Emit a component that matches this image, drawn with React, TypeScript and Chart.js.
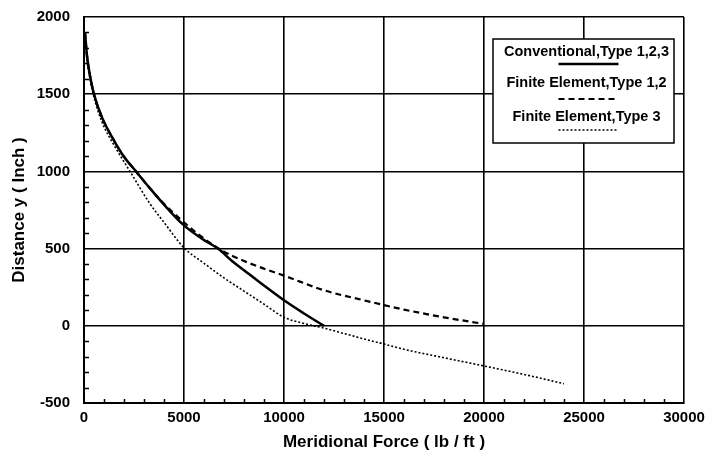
import React, { useEffect, useRef } from "react";
import { Chart, registerables } from "chart.js";

Chart.register(...registerables);

const seriesNames = [
  "Conventional,Type 1,2,3",
  "Finite Element,Type 1,2",
  "Finite Element,Type 3",
];

const convForce = [50, 150, 300, 500, 900, 1500, 2000, 2600, 3300, 4000, 5000, 6000, 6700, 7400, 8000, 8800, 10000, 11000, 12000];
const convY = [1900, 1750, 1620, 1500, 1350, 1200, 1095, 1000, 890, 785, 650, 555, 500, 420, 360, 280, 165, 80, 0];

const feForce = [50, 150, 300, 500, 900, 1500, 2000, 2600, 3300, 4000, 5000, 6000, 7000, 8000, 9000, 10000, 12000, 14000, 16000, 18000, 20000];
const feY = [1900, 1750, 1620, 1500, 1350, 1200, 1095, 1000, 890, 790, 670, 565, 480, 420, 370, 325, 230, 165, 105, 55, 12];

const fe3Force = [50, 150, 300, 500, 900, 1500, 2300, 3300, 4000, 5000, 6000, 7000, 8000, 9000, 10000, 11000, 12000, 13000, 14000, 15000, 16000, 18000, 20000, 22000, 24000];
const fe3Y = [1880, 1720, 1600, 1480, 1320, 1170, 1000, 790, 670, 505, 405, 310, 225, 140, 55, 15, -15, -50, -85, -118, -152, -207, -260, -315, -375];

const xMin = 0;
const xMax = 30000;
const xStep = 5000;
const xMinorStep = 1000;
const yMin = -500;
const yMax = 2000;
const yStep = 500;
const yMinorStep = 100;

const xTitle = "Meridional Force ( lb / ft )";
const yTitle = "Distance y ( Inch )";

const FONT = "'Liberation Sans', Arial, sans-serif";

const toPoints = (xs: number[], ys: number[]) => xs.map((x, i) => ({ x, y: ys[i] }));

const minorTicksPlugin = {
  id: "minorTicks",
  afterDraw(chart: any) {
    const { ctx, chartArea, scales } = chart;
    const xs = scales.x;
    const ys = scales.y;
    ctx.save();
    ctx.strokeStyle = "#000";
    ctx.lineWidth = 1.5;
    ctx.beginPath();
    for (let v = yMin; v <= yMax; v += yMinorStep) {
      if (v % yStep === 0) continue;
      const py = Math.round(ys.getPixelForValue(v)) + 0.5;
      ctx.moveTo(chartArea.left, py);
      ctx.lineTo(chartArea.left + 5, py);
    }
    for (let v = xMin; v <= xMax; v += xMinorStep) {
      if (v % xStep === 0) continue;
      const px = Math.round(xs.getPixelForValue(v)) + 0.5;
      ctx.moveTo(px, chartArea.bottom);
      ctx.lineTo(px, chartArea.bottom - 4);
    }
    ctx.stroke();
    ctx.restore();
  },
};

const legendPlugin = {
  id: "customLegend",
  afterDraw(chart: any) {
    const { ctx, chartArea } = chart;
    const boxRight = chartArea.right - 10;
    const boxLeft = boxRight - 181;
    const boxTop = chartArea.top + 22;
    const boxBottom = boxTop + 104;
    const cx = (boxLeft + boxRight) / 2;
    ctx.save();
    ctx.fillStyle = "#fff";
    ctx.fillRect(boxLeft, boxTop, boxRight - boxLeft, boxBottom - boxTop);
    ctx.strokeStyle = "#000";
    ctx.lineWidth = 1.5;
    ctx.strokeRect(boxLeft, boxTop, boxRight - boxLeft, boxBottom - boxTop);
    ctx.fillStyle = "#000";
    ctx.font = `bold 14.5px ${FONT}`;
    ctx.textAlign = "center";
    ctx.textBaseline = "middle";
    const textY = [13, 44, 78];
    const lineY = [25, 60, 91];
    const dashes = [[], [6, 4], [2, 2]];
    const widths = [2.5, 2, 1.5];
    chart.data.datasets.forEach((ds: any, i: number) => {
      ctx.fillText(ds.label, cx + 3, boxTop + textY[i]);
      ctx.beginPath();
      ctx.setLineDash(dashes[i]);
      ctx.lineWidth = widths[i];
      ctx.moveTo(cx - 25, boxTop + lineY[i]);
      ctx.lineTo(cx + 35, boxTop + lineY[i]);
      ctx.stroke();
    });
    ctx.restore();
  },
};

const zeroPad = (s: any) => {
  s.paddingTop = 0;
  s.paddingBottom = 0;
  s.paddingLeft = 0;
  s.paddingRight = 0;
};

export default function App() {
  const ref = useRef<HTMLCanvasElement | null>(null);

  useEffect(() => {
    if (!ref.current) return;
    const common = {
      pointRadius: 0,
      borderColor: "#000",
      cubicInterpolationMode: "monotone",
      fill: false,
    };
    const chart = new Chart(ref.current, {
      type: "line",
      data: {
        datasets: [
          { ...common, label: seriesNames[0], data: toPoints(convForce, convY), borderWidth: 2.5 },
          { ...common, label: seriesNames[1], data: toPoints(feForce, feY), borderWidth: 2.2, borderDash: [6, 4] },
          { ...common, label: seriesNames[2], data: toPoints(fe3Force, fe3Y), borderWidth: 1.6, borderDash: [2, 2] },
        ],
      },
      options: {
        animation: false,
        responsive: false,
        devicePixelRatio: 1,
        layout: { padding: { left: 0, right: 22, top: 17, bottom: 0 } },
        plugins: {
          legend: { display: false },
          tooltip: { enabled: false },
        },
        scales: {
          x: {
            type: "linear",
            min: xMin,
            max: xMax,
            ticks: {
              stepSize: xStep,
              color: "#000",
              font: { family: FONT, size: 15, weight: "bold" },
              padding: 6,
              maxRotation: 0,
              callback: (v: any) => String(v),
            },
            grid: { color: "#000", lineWidth: 1.6, drawTicks: false },
            border: { color: "#000", width: 2 },
            title: {
              display: true,
              text: xTitle,
              color: "#000",
              font: { family: FONT, size: 17, weight: "bold" },
              padding: { top: 0, bottom: 2 },
            },
            afterFit: (s: any) => {
              s.height = 52;
              zeroPad(s);
            },
          },
          y: {
            type: "linear",
            min: yMin,
            max: yMax,
            ticks: {
              stepSize: yStep,
              color: "#000",
              font: { family: FONT, size: 15, weight: "bold" },
              padding: 14,
              callback: (v: any) => String(v),
            },
            grid: { color: "#000", lineWidth: 1.6, drawTicks: false },
            border: { color: "#000", width: 2 },
            title: {
              display: true,
              text: yTitle,
              color: "#000",
              font: { family: FONT, size: 17, weight: "bold" },
              padding: { top: 9, bottom: 0 },
            },
            afterFit: (s: any) => {
              s.width = 84;
              zeroPad(s);
            },
          },
        },
      },
      plugins: [minorTicksPlugin, legendPlugin],
    } as any);
    return () => chart.destroy();
  }, []);

  return (
    <div style={{ position: "fixed", left: 0, top: 0, width: 706, height: 455, background: "#fff" }}>
      <canvas ref={ref} width={706} height={455} style={{ width: 706, height: 455 }} />
    </div>
  );
}
